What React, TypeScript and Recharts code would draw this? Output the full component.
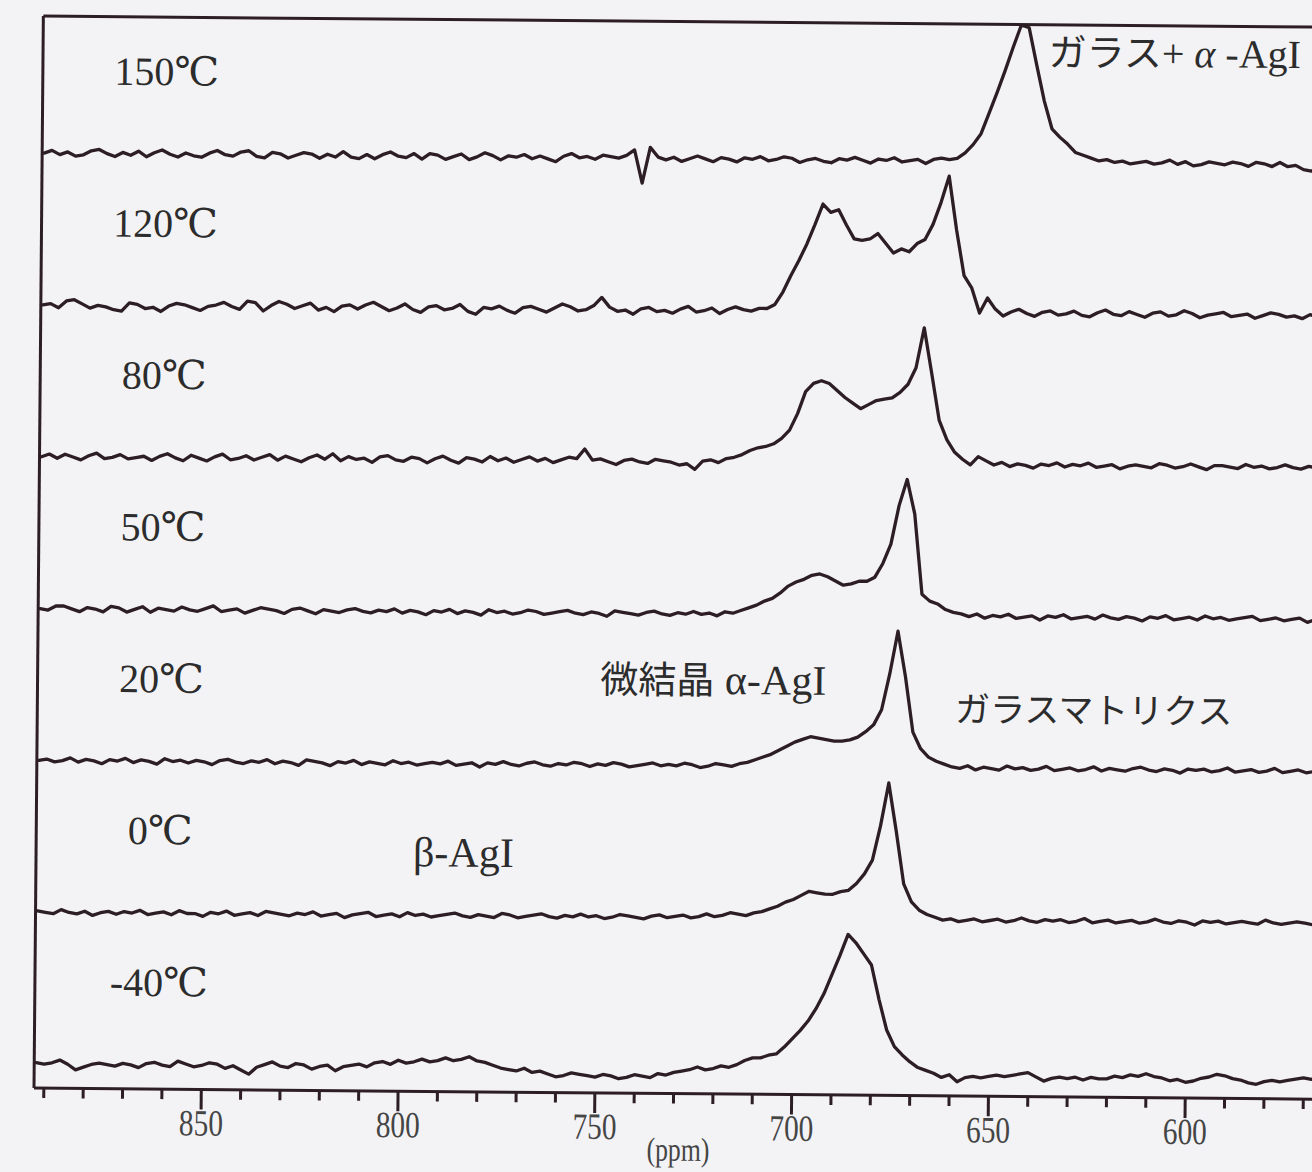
import React from 'react';
import { LineChart, Line, XAxis, YAxis, ReferenceDot } from 'recharts';

// Chemical shift sampling grid (ppm)
const PPM = [
  892, 890, 888, 886, 884, 882, 880, 878, 876, 874,
  872, 870, 868, 866, 864, 862, 860, 858, 856, 854,
  852, 850, 848, 846, 844, 842, 840, 838, 836, 834,
  832, 830, 828, 826, 824, 822, 820, 818, 816, 814,
  812, 810, 808, 806, 804, 802, 800, 798, 796, 794,
  792, 790, 788, 786, 784, 782, 780, 778, 776, 774,
  772, 770, 768, 766, 764, 762, 760, 758, 756, 754,
  752, 750, 748, 746, 744, 742, 740, 738, 736, 734,
  732, 730, 728, 726, 724, 722, 720, 718, 716, 714,
  712, 710, 708, 706, 704, 702, 700, 698, 696, 694,
  692, 690, 688, 686, 684, 682, 680, 678, 676, 674,
  672, 670, 668, 666, 664, 662, 660, 658, 656, 654,
  652, 650, 648, 646, 644, 642, 640, 638, 636, 634,
  632, 630, 628, 626, 624, 622, 620, 618, 616, 614,
  612, 610, 608, 606, 604, 602, 600, 598, 596, 594,
  592, 590, 588, 586, 584, 582, 580, 578, 576, 574,
  572, 570, 568, 566,
];

// Normalised intensities (max = 100) for each temperature
const T150 = [
  0, 2, -1, 1, -2, -1, 2, 3, 0, -2,
  1, -1, 2, -2, 1, 3, 0, -2, 1, -1,
  -2, 1, 3, 0, -1, 2, 3, -1, -2, 2,
  1, -2, 0, 2, 1, -2, 1, -1, 3, -1,
  -2, 1, -2, 1, 3, 0, -1, 2, -2, 2,
  1, -2, 0, 2, -2, 0, 3, 1, -2, 1,
  0, 2, -1, 1, -1, -3, 1, 3, 0, 1,
  -1, 2, 1, 0, 2, 6, -18, 8, 1, -1,
  1, -2, 0, 2, 0, -2, 1, 0, -2, 1,
  0, 2, -1, 0, 2, 1, -2, 0, 1, -1,
  -2, 1, 0, 2, 0, -2, 1, 0, 2, -1,
  0, 1, -2, 1, 2, 1, 2, 6, 12, 20,
  35, 50, 66, 83, 99, 97, 70, 44, 24, 18,
  13, 7, 5, 3, 1, 2, 0, 1, -1, 0,
  1, -1, 0, 2, -1, 1, -2, -1, 1, 0,
  -1, 1, 0, -2, 1, 0, -2, 1, -2, -1,
  -4, -5, -3, -2,
];

const T120 = [
  0, 1, -2, 3, 4, 1, -2, 0, -1, -3,
  -4, 2, 1, -2, -1, -4, 0, 2, 1, -1,
  -3, 0, 1, 3, 0, -2, 4, 3, -3, 1,
  4, 2, -1, 1, 3, -2, 0, -3, 1, 2,
  -1, 2, 4, 1, -2, 0, 3, -1, -3, 1,
  2, -1, 0, 3, -2, -4, 1, 0, 2, -1,
  -3, 1, 2, 0, -2, 1, 4, 2, -1, 0,
  3, 9, 2, -1, 0, -3, 1, 2, -1, 0,
  -2, 1, 3, -1, 0, 2, -2, 1, 3, 1,
  0, 2, 2, 5, 14, 26, 37, 49, 63, 78,
  72, 74, 63, 53, 52, 53, 57, 50, 43, 46,
  44, 50, 53, 64, 80, 99, 60, 27, 18, 0,
  11, 3, -2, 1, 3, 0, -2, 1, 2, -1,
  0, 2, -1, -2, 1, 3, 0, -1, 2, 0,
  -2, 1, 2, -1, 0, 3, 1, -2, 0, 1,
  2, -1, 0, 1, -2, 0, 2, 1, -1, 0,
  -2, 1, -1, -3,
];

const T80 = [
  0, 2, -1, 2, 0, -2, 1, 3, -1, 0,
  2, -1, 0, 1, -2, 1, 3, 0, -2, 2,
  0, -2, 1, 3, -1, 0, 2, -1, 1, 3,
  -1, 2, 0, -2, 1, 3, 0, 4, -1, 2,
  0, 1, -2, 2, 3, 0, -1, 2, 1, -2,
  1, 3, 0, -2, 2, 1, -1, 3, 0, 2,
  -1, 1, 3, 0, 2, -1, 1, 3, 2, 9,
  1, 2, 0, -2, 1, 2, 0, -1, 2, 1,
  0, -2, -1, -5, 1, 2, 0, 3, 4, 6,
  9, 11, 12, 14, 18, 24, 36, 52, 58, 60,
  58, 53, 48, 44, 40, 43, 46, 47, 48, 52,
  58, 70, 99, 66, 32, 18, 9, 4, 0, 6,
  3, 0, 2, -1, 1, 0, -2, 1, 0, 2,
  -1, 1, 0, 2, -1, 0, 1, -2, 0, 1,
  0, -1, 2, 1, -1, 0, 2, 0, -2, 1,
  1, 0, -1, 2, 0, 1, -1, 0, 2, 0,
  -1, 1, 0, -1,
];

const T50 = [
  0, -1, 2, 2, 0, -2, 1, 0, -2, 2,
  1, -2, 0, 2, -2, 1, 0, -1, 2, 0,
  -1, 1, 3, -1, 0, 1, -2, 0, 2, 1,
  0, -2, 1, 2, 0, -2, 1, 0, -1, 1,
  2, 0, -1, 1, 0, 2, -1, 1, 0, -2,
  1, 0, 2, -1, 1, 0, -2, 2, 0, 1,
  -1, 0, 2, 1, -1, 0, 1, 2, 0, -1,
  1, 0, -2, 2, 1, 0, -1, 1, 2, 0,
  -1, 1, 0, 2, 0, 1, -1, 2, 1, 3,
  5, 7, 10, 12, 16, 21, 24, 26, 29, 30,
  28, 25, 22, 23, 25, 25, 28, 38, 52, 80,
  99, 74, 16, 11, 9, 5, 3, 2, 0, 2,
  -1, 1, 0, 2, -1, 0, 1, -2, 1, 0,
  2, -1, 0, 1, -1, 2, 0, -1, 1, 0,
  -2, 1, 0, 2, -1, 0, 1, -1, 2, 0,
  1, -1, 0, 1, 2, -1, 0, 1, -1, 0,
  1, -2, 0, 1,
];

const T20 = [
  0, 1, -1, 0, 2, -1, 1, 0, -2, 1,
  0, 2, -1, 1, 0, -2, 2, 0, 1, -1,
  1, 0, -2, 1, 2, 0, -1, 1, 0, 2,
  -1, 1, 0, -2, 2, 1, 0, -2, 1, 0,
  2, -1, 1, 0, -1, 2, 0, 1, -1, 0,
  1, 0, 2, -1, 0, 1, -2, 1, 0, 2,
  0, -1, 1, 2, 0, -1, 1, 0, 2, 1,
  -1, 1, 0, 2, 1, -1, 0, 1, 2, 0,
  1, 0, 2, 1, -1, 0, 2, 1, 0, 2,
  3, 5, 7, 9, 12, 15, 18, 20, 22, 21,
  20, 19, 19, 20, 22, 26, 31, 42, 68, 99,
  66, 26, 14, 8, 5, 3, 1, 0, 2, -1,
  1, 0, -1, 2, 0, 1, -1, 0, 2, -1,
  0, 1, -1, 0, 2, -1, 1, 0, -1, 1,
  2, 0, -1, 1, 0, -2, 1, 0, 1, -1,
  0, 2, -1, 0, 1, -1, 0, 2, -1, 0,
  1, -1, 0, 1,
];

const T0 = [
  1, 0, -1, 2, 0, -1, 1, -2, 0, 1,
  -1, 1, 0, 2, -1, 0, 1, -1, 2, 0,
  0, -2, 1, 0, 2, -1, 0, 1, -1, 2,
  1, 0, -1, 1, 0, 2, -1, 0, 1, -2,
  0, 1, 2, -1, 0, 1, -1, 2, 0, 1,
  -1, 0, 1, 2, 0, -1, 1, 0, -1, 2,
  1, -1, 0, 1, 2, 0, -1, 1, 0, 2,
  0, 1, -1, 0, 2, 1, 0, -1, 1, 2,
  0, 1, 2, 0, 1, 3, 1, 2, 4, 3,
  2, 4, 5, 7, 9, 12, 14, 17, 20, 19,
  18, 18, 20, 21, 26, 33, 43, 68, 99, 64,
  26, 13, 7, 4, 2, 0, 1, -1, 0, 1,
  -1, 0, 1, -1, 0, 2, 0, -1, 1, 0,
  1, -1, 0, 2, -1, 0, 1, -1, 0, 1,
  -1, 0, 2, 0, -1, 1, 0, -2, 1, 0,
  1, -1, 0, 1, 0, -1, 2, 0, -1, 0,
  1, 0, -1, 1,
];

const TM40 = [
  1, 0, 1, 3, 0, -4, -2, 0, 1, 0,
  -1, 1, 0, -2, 1, 2, 0, -1, 3, 1,
  -1, 0, 2, 1, -2, 0, -3, -6, -1, 1,
  3, 0, -1, 2, 1, -2, 0, 1, -3, 0,
  1, 2, 0, 3, 4, 2, 5, 3, 4, 6,
  4, 5, 7, 5, 6, 8, 5, 4, 2, 0,
  -1, -2, 0, -3, -2, -4, -6, -5, -3, -4,
  -5, -6, -4, -5, -7, -6, -4, -5, -6, -3,
  -4, -2, -1, 0, 2, 0, 1, 3, 2, 4,
  7, 9, 9, 11, 12, 17, 23, 29, 36, 45,
  56, 70, 84, 99, 93, 85, 77, 52, 30, 18,
  12, 7, 3, 1, -1, -4, -2, -7, -4, -3,
  -4, -3, -2, -3, -2, -1, 0, -3, -6, -4,
  -3, -4, -3, -5, -3, -4, -4, -2, -3, -1,
  -2, 0, -2, -3, -5, -4, -6, -5, -3, -2,
  0, -1, -3, -4, -6, -7, -5, -4, -5, -4,
  -3, -2, -3, -2,
];

const TEMPERATURES = ['150℃', '120℃', '80℃', '50℃', '20℃', '0℃', '-40℃'];
const STACK_OFFSETS = [660, 550, 440, 330, 220, 110, 0];
const PPM_TICKS = [
  890, 880, 870, 860, 850, 840, 830, 820, 810, 800, 790,
  780, 770, 760, 750, 740, 730, 720, 710, 700, 690, 680,
  670, 660, 650, 640, 630, 620, 610, 600, 590, 580, 570,
];

const SPECTRA = [T150, T120, T80, T50, T20, T0, TM40];
const KEYS = SPECTRA.map((_, k) => `s${k}`);

// one row per ppm sample, each spectrum lifted by its stacking offset
const rows = PPM.map((ppm, i) => {
  const row: Record<string, number> = { ppm };
  SPECTRA.forEach((values, k) => {
    row[KEYS[k]] = values[i] + STACK_OFFSETS[k];
  });
  return row;
});

const INK = '#2d1e23';
const LABEL_INK = '#2c2c2c';
const TICK_INK = '#454545';
const PAPER = '#f3f3f6';
const SERIF = "'Liberation Serif', 'DejaVu Serif', 'Noto Sans CJK JP', serif";
const GOTHIC = "'Noto Sans CJK JP', 'Noto Sans', sans-serif";

const X_DOMAIN: [number, number] = [565, 892.5];
const Y_DOMAIN: [number, number] = [-17.4, 759.3];
const LABEL_X = 861;
const LABEL_RISE = 50;

type Piece = { text: string; font: string; size: number; italic?: boolean };

const NOTES: { ppm: number; level: number; pieces: Piece[] }[] = [
  {
    ppm: 637,
    level: 729.5,
    pieces: [
      { text: 'ガラス', font: GOTHIC, size: 38 },
      { text: '+ ', font: SERIF, size: 40 },
      { text: 'α', font: SERIF, size: 40, italic: true },
      { text: ' -AgI', font: SERIF, size: 40 },
    ],
  },
  {
    ppm: 749.5,
    level: 272.4,
    pieces: [
      { text: '微結晶', font: GOTHIC, size: 38 },
      { text: ' α-AgI', font: SERIF, size: 42 },
    ],
  },
  {
    ppm: 659.3,
    level: 253.8,
    pieces: [{ text: 'ガラスマトリクス', font: GOTHIC, size: 35 }],
  },
  {
    ppm: 796.7,
    level: 145.6,
    pieces: [{ text: 'β-AgI', font: SERIF, size: 42 }],
  },
];

const anchorOf = (props: any) => {
  const vb = props.viewBox || {};
  return { x: (vb.x || 0) + (vb.width || 0) / 2, y: (vb.y || 0) + (vb.height || 0) / 2 };
};

const temperatureLabel = (text: string) => (props: any) => {
  const { x, y } = anchorOf(props);
  return (
    <text x={x} y={y} textAnchor="middle" fontFamily={SERIF} fontSize={40} fill={LABEL_INK}>
      {text}
    </text>
  );
};

const noteLabel = (pieces: Piece[]) => (props: any) => {
  const { x, y } = anchorOf(props);
  return (
    <text x={x} y={y} textAnchor="start" fill={LABEL_INK} style={{ whiteSpace: 'pre' }}>
      {pieces.map((p, i) => (
        <tspan key={i} fontFamily={p.font} fontSize={p.size} fontStyle={p.italic ? 'italic' : 'normal'}>
          {p.text}
        </tspan>
      ))}
    </text>
  );
};

// ppm ticks: long marks with labels every 50 ppm, short marks every 10 ppm
const PpmTick = (props: any) => {
  const { x, y, payload } = props;
  const major = payload.value % 50 === 0;
  return (
    <g>
      <line x1={x} y1={y} x2={x} y2={y + (major ? 20 : 10)} stroke={INK} strokeWidth={3} />
      {major && (
        <text
          x={x}
          y={y + 46}
          textAnchor="middle"
          fontFamily={SERIF}
          fontSize={37}
          fill={TICK_INK}
          textLength={44}
          lengthAdjust="spacingAndGlyphs"
        >
          {payload.value}
        </text>
      )}
    </g>
  );
};

const unitLabel = (props: any) => {
  const vb = props.viewBox || {};
  return (
    <text
      x={(vb.x || 0) + (vb.width || 0) / 2}
      y={(vb.y || 0) + 67}
      textAnchor="middle"
      fontFamily={SERIF}
      fontSize={33}
      fill={TICK_INK}
      textLength={63}
      lengthAdjust="spacingAndGlyphs"
    >
      (ppm)
    </text>
  );
};

export default function App() {
  return (
    <div
      style={{
        position: 'fixed',
        left: 0,
        top: 0,
        width: 1312,
        height: 1172,
        overflow: 'hidden',
        background: PAPER,
      }}
    >
      {/* the whole frame is drawn with a slight clockwise tilt about its lower-left corner */}
      <div style={{ width: 1340, height: 1172, transform: 'rotate(0.5deg)', transformOrigin: '34px 1088px' }}>
        <LineChart width={1340} height={1172} data={rows} margin={{ top: 15, right: 17, bottom: 83, left: 33 }}>
          <XAxis
            xAxisId="ppm"
            dataKey="ppm"
            type="number"
            domain={X_DOMAIN}
            reversed
            allowDataOverflow
            ticks={PPM_TICKS}
            interval={0}
            tickSize={0}
            tickMargin={0}
            tickLine={false}
            height={1}
            axisLine={{ stroke: INK, strokeWidth: 3 }}
            tick={<PpmTick />}
            label={{ content: unitLabel }}
          />
          <XAxis
            xAxisId="frame"
            orientation="top"
            type="number"
            domain={X_DOMAIN}
            reversed
            allowDataOverflow
            height={1}
            ticks={PPM_TICKS}
            tick={false}
            tickLine={false}
            axisLine={{ stroke: INK, strokeWidth: 3 }}
          />
          <YAxis
            yAxisId="i"
            type="number"
            domain={Y_DOMAIN}
            allowDataOverflow
            width={1}
            tick={false}
            tickLine={false}
            axisLine={{ stroke: INK, strokeWidth: 3 }}
          />
          {KEYS.map((key) => (
            <Line
              key={key}
              xAxisId="ppm"
              yAxisId="i"
              dataKey={key}
              type="linear"
              stroke={INK}
              strokeWidth={3.3}
              strokeLinejoin="round"
              strokeLinecap="round"
              dot={false}
              activeDot={false}
              isAnimationActive={false}
            />
          ))}
          {TEMPERATURES.map((t, k) => (
            <ReferenceDot
              key={t}
              xAxisId="ppm"
              yAxisId="i"
              x={LABEL_X}
              y={STACK_OFFSETS[k] + LABEL_RISE}
              r={0}
              fill="none"
              stroke="none"
              label={temperatureLabel(t)}
            />
          ))}
          {NOTES.map((n, k) => (
            <ReferenceDot
              key={`note-${k}`}
              xAxisId="ppm"
              yAxisId="i"
              x={n.ppm}
              y={n.level}
              r={0}
              fill="none"
              stroke="none"
              label={noteLabel(n.pieces)}
            />
          ))}
        </LineChart>
      </div>
    </div>
  );
}
